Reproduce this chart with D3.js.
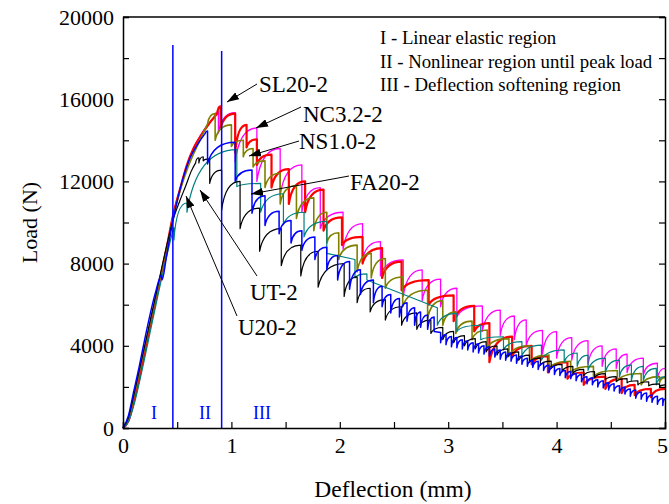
<!DOCTYPE html>
<html>
<head>
<meta charset="utf-8">
<script src="https://cdn.jsdelivr.net/npm/d3@7/dist/d3.min.js"></script>
<style>
  body { margin: 0; background: #fff; }
  svg text { font-family: "Liberation Serif", "Times New Roman", serif; }
</style>
</head>
<body>
<div id="chart"></div>
<script>
// rising part of each curve: [deflection, load]
const sl20Rise = [[0,0],[0.05,350],[0.1,1300],[0.15,2400],[0.2,3700],[0.3,6200],[0.4,8700],[0.46,10300],[0.53,11700],[0.59,12800],[0.65,13600],[0.71,14150],[0.8,14850],[0.87,15300]];
const nc32Rise = [[0,0],[0.05,300],[0.1,1200],[0.15,2300],[0.2,3600],[0.3,6100],[0.4,8600],[0.46,10300],[0.53,11700],[0.59,12800],[0.65,13600],[0.71,14200],[0.78,14750],[0.84,15100]];
const ns10Rise = [[0,0],[0.05,450],[0.1,1500],[0.15,2700],[0.2,3900],[0.3,6300],[0.4,8700],[0.46,10200],[0.53,11600],[0.6,12700],[0.7,13900],[0.78,14800]];
const fa20Rise = [[0,0],[0.05,600],[0.1,1800],[0.15,3000],[0.2,4300],[0.3,6600],[0.355,7450],[0.36,7200],[0.4,8300],[0.45,9800],[0.53,11700],[0.6,12900],[0.7,13900],[0.76,14350]];
const utRise = [[0,0],[0.05,300],[0.1,1100],[0.15,2200],[0.2,3400],[0.3,5900],[0.4,8300],[0.465,9700]];
const u20Rise = [[0,0],[0.05,500],[0.1,1600],[0.15,2800],[0.2,4000],[0.3,6400],[0.4,8800],[0.46,10100],[0.52,11000],[0.58,11800],[0.63,12500],[0.67,12900]];

// teeth after the rise: [deflection, peak load, load after the drop]
const sl20Teeth = [[0.90,15650,14550],[1.035,15300,13400],[1.14,14750,13650],[1.235,14050,12800],[1.37,13300,11700],[1.53,12600,10900],[1.68,12000,10500],[1.85,11600,9600],[2.02,10250,8900],[2.21,9300,8000],[2.39,8750,7300],[2.57,8100,6700],[2.82,7200,6000],[3.05,6450,5200],[3.24,5950,4700],[3.38,5100,3200],[3.59,4450,3500],[3.77,4000,3100],[3.92,3500,2700],[4.1,3200,2400],[4.25,2700,2100],[4.45,2500,1900],[4.6,2400,1700],[4.72,2100,1600],[4.87,1900,1500],[5.0,1900,1900]];
const nc32Teeth = [[0.88,15400,14350],[1.035,15350,12950],[1.235,14600,12000],[1.45,13600,11300],[1.65,12800,10500],[1.82,11700,9700],[2.03,10500,8700],[2.21,9950,8200],[2.375,9070,7400],[2.585,8180,6400],[2.76,7690,6200],[2.93,7240,5900],[3.08,6800,5400],[3.315,5940,4700],[3.48,5740,4500],[3.61,5450,4300],[3.72,5260,4000],[3.87,4750,3600],[4.0,4690,3400],[4.14,4400,3300],[4.29,4250,3100],[4.42,4000,3000],[4.55,3850,2900],[4.65,3590,2700],[4.8,3400,2600],[4.93,3150,2400],[5.0,2900,2900]];
const ns10Teeth = [[0.85,15300,14000],[1.0,14750,13700],[1.11,14000,13200],[1.2,13600,12700],[1.31,13000,11700],[1.45,12400,10900],[1.6,11800,10200],[1.76,11200,9600],[1.88,10500,9000],[1.99,9500,8200],[2.16,8900,7600],[2.29,8500,7300],[2.42,8250,6800],[2.58,7350,5900],[2.81,6700,5300],[2.95,6200,5000],[3.07,5650,4600],[3.22,5200,4300],[3.36,4770,3900],[3.56,4350,3500],[3.75,4000,3200],[3.93,3550,2900],[4.13,3250,2700],[4.34,3000,2500],[4.56,2800,2300],[4.78,2650,2100],[4.95,2500,2200],[5.0,2450,2450]];
const fa20Teeth = [[0.78,14450,12850],[1.035,13900,12000],[1.19,12550,10450],[1.31,11300,9850],[1.44,10550,9450],[1.55,10100,9000],[1.65,9600,8650],[1.77,9300,8200],[1.88,8800,7700],[1.98,8400,7200],[2.09,8100,6750],[2.19,7700,6500],[2.31,7200,6100],[2.39,6900,5900],[2.47,6500,5600],[2.55,6300,5400],[2.62,6100,5200],[2.69,5850,5000],[2.745,5650,4900],[2.81,5500,4800],[2.87,5400,4700],
  [2.93,4650,4150],[2.98,4550,4050],[3.03,4450,3950],[3.08,4400,3900],[3.13,4300,3850],[3.18,4250,3800],[3.23,4150,3700],[3.28,4100,3650],[3.33,4000,3600],[3.38,3950,3500],[3.43,3850,3450],[3.48,3800,3350],[3.53,3700,3300],[3.58,3650,3250],[3.63,3550,3150],[3.68,3500,3100],[3.73,3400,3000],[3.78,3300,2950],[3.83,3250,2850],[3.88,3150,2800],[3.93,3050,2700],[3.98,3000,2600],[4.03,2900,2550],[4.08,2800,2450],[4.13,2750,2400],[4.18,2650,2300],[4.23,2600,2250],[4.28,2500,2150],[4.33,2450,2100],[4.38,2350,2000],[4.43,2300,1950],[4.48,2200,1850],[4.53,2150,1800],[4.58,2050,1700],[4.63,2000,1650],[4.68,1900,1550],[4.73,1850,1450],[4.78,1750,1400],[4.83,1700,1300],[4.88,1600,1250],[4.93,1550,1150],[4.98,1450,1100],[5.0,1400,1400]];
const utTeeth = [[0.47,9750,9150],[0.59,10950,10500],[1.05,13550,11750],[1.27,11900,10500],[1.48,11400,9900],[1.67,10500,9300],[1.88,10050,8500],[2.14,8200,7300],[2.25,7500,7200],[2.9,5850,5000],[3.08,5580,4700],[3.3,5000,4300],[3.51,4440,3800],[3.68,4200,3500],[3.86,4030,3300],[4.07,3800,3200],[4.19,3650,3000],[4.29,3550,2800],[4.45,3400,2700],[4.58,3300,2500],[4.69,3070,2300],[4.8,3000,2300],[4.92,2900,2100],[5.0,2500,2500]];
const u20Teeth = [[0.70,13150,12900],[0.74,13200,13000],[0.80,13100,11900],[0.91,12550,10600],[1.08,12000,9700],[1.26,10700,8600],[1.46,9700,7900],[1.64,8900,7400],[1.80,8600,6850],[2.04,8000,6400],[2.16,7350,6100],[2.28,6800,5650],[2.42,6250,5250],[2.57,5900,5000],[2.71,5600,4800],[2.84,5250,4600],[2.95,4900,4300],[3.05,4700,4150],[3.15,4500,4000],[3.25,4350,3850],[3.35,4200,3700],[3.45,4000,3550],[3.55,3850,3450],[3.65,3700,3300],[3.75,3550,3200],[3.85,3400,3050],[3.95,3250,2900],[4.05,3100,2750],[4.15,3000,2650],[4.25,2850,2550],[4.35,2750,2450],[4.45,2650,2350],[4.55,2500,2250],[4.65,2400,2200],[4.75,2300,2100],[4.85,2250,2050],[4.95,2150,2000],[5.0,2100,2100]];

const regionLines = [0.46, 0.91];
const xTicks = [0, 0.5, 1, 1.5, 2, 2.5, 3, 3.5, 4, 4.5, 5];
const yTicks = [0, 2000, 4000, 6000, 8000, 10000, 12000, 14000, 16000, 18000, 20000];

const series = [
  { rise: nc32Rise, teeth: nc32Teeth, color: '#ff00ff', w: 1.3 },
  { rise: sl20Rise, teeth: sl20Teeth, color: '#ff0000', w: 2.2 },
  { rise: ns10Rise, teeth: ns10Teeth, color: '#808000', w: 1.6 },
  { rise: utRise, teeth: utTeeth, color: '#008080', w: 1.2 },
  { rise: u20Rise, teeth: u20Teeth, color: '#000000', w: 1.2 },
  { rise: fa20Rise, teeth: fa20Teeth, color: '#0000ff', w: 1.5 }
];

const width = 669, height = 504;
const plotL = 123, plotR = 665, plotT = 17, plotB = 428;

const x = d3.scaleLinear().domain([0, 5]).range([plotL, plotR]);
const y = d3.scaleLinear().domain([0, 20000]).range([plotB, plotT]);

const svg = d3.select('#chart').append('svg')
  .attr('width', width)
  .attr('height', height);

svg.append('defs').append('marker')
  .attr('id', 'arrow')
  .attr('viewBox', '0 0 12 8')
  .attr('refX', 12).attr('refY', 4)
  .attr('markerWidth', 12).attr('markerHeight', 8)
  .attr('markerUnits', 'userSpaceOnUse')
  .attr('orient', 'auto')
  .append('path').attr('d', 'M0,0 L12,4 L0,8 Z').attr('fill', '#000');

// sawtooth path: smooth rise, then each tooth climbs to its peak and drops
function toothPath(rise, teeth) {
  const p = d3.path();
  d3.line().x(d => x(d[0])).y(d => y(d[1])).curve(d3.curveMonotoneX).context(p)(rise);
  let last = rise[rise.length - 1];
  let cx = last[0], cy = last[1];
  teeth.forEach(t => {
    const x0 = x(cx), x1 = x(t[0]), yp = y(t[1]);
    if (t[1] > cy) {
      p.quadraticCurveTo(x0 + (x1 - x0) * 0.2, yp, x1, yp);
    } else {
      p.lineTo(x1, yp);
    }
    p.lineTo(x1, y(t[2]));
    cx = t[0]; cy = t[2];
  });
  return p.toString();
}

const plot = svg.append('g');
series.forEach(s => {
  plot.append('path')
    .attr('d', toothPath(s.rise, s.teeth))
    .attr('fill', 'none')
    .attr('stroke', s.color)
    .attr('stroke-width', s.w)
    .attr('stroke-linejoin', 'round');
});

// region boundaries
plot.selectAll('.region')
  .data(regionLines)
  .enter().append('line')
  .attr('x1', d => x(d)).attr('x2', d => x(d))
  .attr('y1', (d, i) => i == 0 ? 45 : 51)
  .attr('y2', plotB)
  .attr('stroke', '#0000ff')
  .attr('stroke-width', 1.5);

// axes
const xAxis = d3.axisBottom(x).tickValues(xTicks).tickSize(-6).tickPadding(9)
  .tickFormat(d => Number.isInteger(d) ? d : '');
const yAxis = d3.axisLeft(y).tickValues(yTicks).tickSize(-6).tickPadding(9)
  .tickFormat(d => d % 4000 == 0 ? d : '');
const yRight = d3.axisRight(y).tickValues(yTicks).tickSize(-6).tickFormat('');

const gx = svg.append('g').attr('transform', 'translate(0,' + plotB + ')').call(xAxis);
svg.append('g').attr('transform', 'translate(' + plotL + ',0)').call(yAxis);
svg.append('g').attr('transform', 'translate(' + plotR + ',0)').call(yRight);
svg.append('line').attr('x1', plotL).attr('x2', plotR).attr('y1', plotT).attr('y2', plotT)
  .attr('stroke', '#000').attr('stroke-width', 1.5);

svg.selectAll('.domain').attr('stroke', '#000').attr('stroke-width', 1.5);
svg.selectAll('.tick line').attr('stroke', '#000').attr('stroke-width', 1.2);
svg.selectAll('.tick text').attr('font-size', 22).attr('fill', '#000')
  .style('font-family', '"Liberation Serif", serif');
// last x label sits on the page edge
gx.selectAll('.tick text').filter(d => d == 5).attr('x', -3);

svg.append('text')
  .attr('x', (plotL + plotR) / 2 - 1).attr('y', 497)
  .attr('text-anchor', 'middle').attr('font-size', 23.5)
  .text('Deflection (mm)');
svg.append('text')
  .attr('transform', 'translate(37,' + ((plotT + plotB) / 2) + ') rotate(-90)')
  .attr('text-anchor', 'middle').attr('font-size', 22)
  .text('Load (N)');

// region notes
const notes = ['I - Linear elastic region', 'II - Nonlinear region until peak load', 'III - Deflection softening region'];
svg.selectAll('.note').data(notes).enter().append('text')
  .attr('x', 380).attr('y', (d, i) => 44 + i * 23.5)
  .attr('font-size', 18.8)
  .text(d => d);

const regionNames = [['I', 154], ['II', 205], ['III', 262]];
svg.selectAll('.rname').data(regionNames).enter().append('text')
  .attr('x', d => d[1]).attr('y', 419)
  .attr('text-anchor', 'middle')
  .attr('font-size', 18).attr('fill', '#0000ff')
  .text(d => d[0]);

// curve labels with arrows
const labels = [
  { t: 'SL20-2', tx: 259, ty: 92, x1: 257, y1: 84, x2: 227, y2: 102 },
  { t: 'NC3.2-2', tx: 303, ty: 122, x1: 301, y1: 107, x2: 256, y2: 128 },
  { t: 'NS1.0-2', tx: 299, ty: 149, x1: 299, y1: 141, x2: 249, y2: 156 },
  { t: 'FA20-2', tx: 350, ty: 190, x1: 349, y1: 176, x2: 251, y2: 194 },
  { t: 'UT-2', tx: 250, ty: 300, x1: 257, y1: 276, x2: 200, y2: 190 },
  { t: 'U20-2', tx: 238, ty: 335, x1: 237, y1: 316, x2: 186, y2: 196 }
];
labels.forEach(l => {
  svg.append('line')
    .attr('x1', l.x1).attr('y1', l.y1).attr('x2', l.x2).attr('y2', l.y2)
    .attr('stroke', '#000').attr('stroke-width', 1)
    .attr('marker-end', 'url(#arrow)');
  svg.append('text').attr('x', l.tx).attr('y', l.ty)
    .attr('font-size', 23).text(l.t);
});
</script>
</body>
</html>
